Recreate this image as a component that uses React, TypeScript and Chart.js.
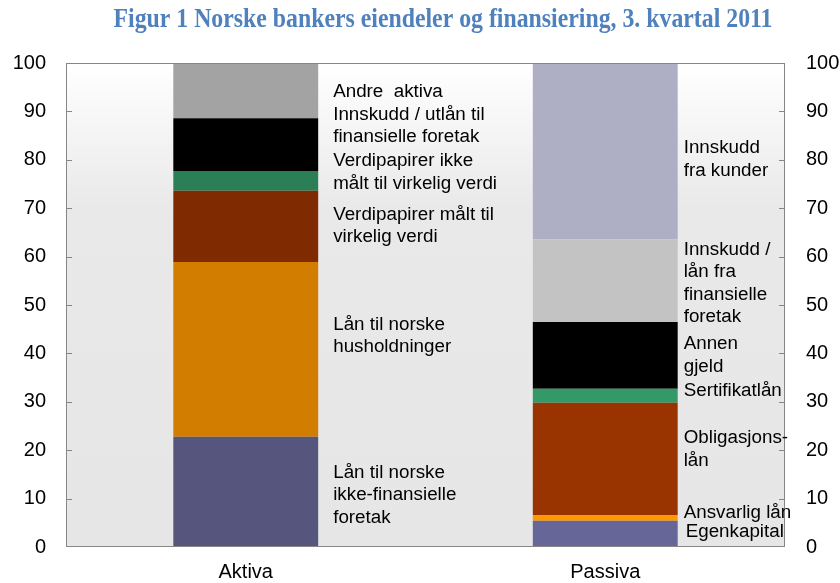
import React, { useEffect, useRef } from 'react';
import { Chart, registerables } from 'chart.js';

Chart.register(...registerables);

const categories = ['Aktiva', 'Passiva'];
const titleText = 'Figur 1 Norske bankers eiendeler og finansiering, 3. kvartal 2011';

// Aktiva segments, bottom to top
const aktivaNames = [
  'Lån til norske ikke-finansielle foretak',
  'Lån til norske husholdninger',
  'Verdipapirer målt til virkelig verdi',
  'Verdipapirer ikke målt til virkelig verdi',
  'Innskudd / utlån til finansielle foretak',
  'Andre aktiva',
];
const aktivaValues = [22.8, 36.1, 14.7, 4.1, 10.9, 11.4];
const aktivaColors = ['#55557d', '#d37d00', '#7f2a00', '#2b7f56', '#000000', '#a3a3a3'];
const aktivaLabelLines = [
  ['Lån til norske', 'ikke-finansielle', 'foretak'],
  ['Lån til norske', 'husholdninger'],
  ['Verdipapirer målt til', 'virkelig verdi'],
  ['Verdipapirer ikke', 'målt til virkelig verdi'],
  ['Innskudd / utlån til', 'finansielle foretak'],
  ['Andre  aktiva'],
];
const aktivaLabelAt = [10.7, 43.6, 66.4, 77.4, 87.0, 94.0];

// Passiva segments, bottom to top
const passivaNames = [
  'Egenkapital',
  'Ansvarlig lån',
  'Obligasjonslån',
  'Sertifikatlån',
  'Annen gjeld',
  'Innskudd / lån fra finansielle foretak',
  'Innskudd fra kunder',
];
const passivaValues = [5.4, 1.2, 23.2, 2.9, 13.8, 17.1, 36.4];
const passivaColors = ['#666699', '#ff9900', '#993300', '#339966', '#000000', '#c3c3c3', '#aeaec4'];
const passivaLabelLines = [
  ['Egenkapital'],
  ['Ansvarlig lån'],
  ['Obligasjons-', 'lån'],
  ['Sertifikatlån'],
  ['Annen', 'gjeld'],
  ['Innskudd /', 'lån fra', 'finansielle', 'foretak'],
  ['Innskudd', 'fra kunder'],
];
const passivaLabelAt = [3.1, 7.0, 20.2, 32.2, 39.6, 54.5, 80.1];

const yMin = 0;
const yMax = 100;
const yStep = 10;

const TICK_FONT = '"Liberation Sans", Arial, sans-serif';

export default function App() {
  const ref = useRef<HTMLCanvasElement | null>(null);

  useEffect(() => {
    document.body.style.margin = '0';
    const canvas = ref.current;
    if (!canvas) return;

    const datasets: any[] = [];
    aktivaValues.forEach((v, i) => {
      datasets.push({
        label: aktivaNames[i],
        data: [v, null],
        backgroundColor: aktivaColors[i],
        borderWidth: 0,
        stack: 's',
        side: 0,
        segIndex: i,
      });
    });
    passivaValues.forEach((v, i) => {
      datasets.push({
        label: passivaNames[i],
        data: [null, v],
        backgroundColor: passivaColors[i],
        borderWidth: 0,
        stack: 's',
        side: 1,
        segIndex: i,
      });
    });

    const decor = {
      id: 'decor',
      beforeDatasetsDraw(chart: any) {
        const { ctx, chartArea: a } = chart;
        ctx.save();
        const g = ctx.createLinearGradient(0, a.top, 0, a.bottom);
        g.addColorStop(0, '#ffffff');
        g.addColorStop(0.3, '#e9e9e9');
        g.addColorStop(1, '#e6e6e6');
        ctx.fillStyle = g;
        ctx.fillRect(a.left, a.top, a.right - a.left, a.bottom - a.top);
        ctx.restore();
      },
      afterDatasetsDraw(chart: any) {
        const { ctx, chartArea: a } = chart;
        const ys = chart.scales.y;
        ctx.save();
        // border
        ctx.strokeStyle = '#868686';
        ctx.lineWidth = 1;
        ctx.strokeRect(a.left + 0.5, a.top + 0.5, a.right - a.left - 1, a.bottom - a.top - 1);
        // inward ticks
        for (let v = yMin + yStep; v < yMax; v += yStep) {
          const py = Math.round(ys.getPixelForValue(v)) + 0.5;
          ctx.beginPath();
          ctx.moveTo(a.left, py);
          ctx.lineTo(a.left + 6, py);
          ctx.moveTo(a.right, py);
          ctx.lineTo(a.right - 6, py);
          ctx.stroke();
        }

        // segment labels
        ctx.fillStyle = '#000000';
        ctx.font = '18.8px "Liberation Sans", Arial, sans-serif';
        ctx.textAlign = 'left';
        ctx.textBaseline = 'middle';
        const lh = 22.5;
        const drawSide = (catIndex: number, lines: string[][], at: number[], gap: number) => {
          const dsIndex = datasets.findIndex((d) => d.side === catIndex);
          const bar = chart.getDatasetMeta(dsIndex).data[catIndex];
          const right = bar.x + bar.width / 2;
          lines.forEach((ls, i) => {
            const cy = ys.getPixelForValue(at[i]);
            const start = cy - ((ls.length - 1) * lh) / 2;
            const extra = catIndex === 1 && i === 0 ? 2 : 0;
            ls.forEach((t, j) => ctx.fillText(t, right + gap + extra, start + j * lh));
          });
        };
        drawSide(0, aktivaLabelLines, aktivaLabelAt, 15);
        drawSide(1, passivaLabelLines, passivaLabelAt, 6);

        // title (slightly stretched vertically, as in the reference)
        ctx.fillStyle = '#4f81bd';
        ctx.font = 'bold 23.8px "Liberation Serif", "Times New Roman", serif';
        ctx.textAlign = 'center';
        ctx.translate(443, 20);
        ctx.scale(1, 1.15);
        ctx.fillText(titleText, 0, 0);
        ctx.restore();
      },
    };

    const chart = new Chart(canvas, {
      type: 'bar',
      data: { labels: categories, datasets },
      options: {
        responsive: false,
        devicePixelRatio: 1,
        animation: false,
        layout: { padding: { top: 63, left: 0, right: 0, bottom: 0 } },
        datasets: { bar: { barPercentage: 0.403, categoryPercentage: 1 } },
        plugins: {
          legend: { display: false },
          tooltip: { enabled: false },
          title: { display: false },
        },
        scales: {
          x: {
            stacked: true,
            grid: { display: false },
            border: { display: false },
            ticks: { color: '#000', font: { family: TICK_FONT, size: 20 }, padding: 5 },
            afterFit: (s: any) => { s.height = 36; },
          },
          y: {
            stacked: true,
            position: 'left',
            min: yMin,
            max: yMax,
            grid: { display: false },
            border: { display: false },
            ticks: { stepSize: yStep, color: '#000', font: { family: TICK_FONT, size: 20 }, padding: 12 },
            afterFit: (s: any) => { s.width = 66; },
          },
          y2: {
            position: 'right',
            min: yMin,
            max: yMax,
            grid: { display: false },
            border: { display: false },
            ticks: { stepSize: yStep, color: '#000', font: { family: TICK_FONT, size: 20 }, padding: 13 },
            afterFit: (s: any) => { s.width = 55; },
          },
        },
      } as any,
      plugins: [decor],
    });

    return () => chart.destroy();
  }, []);

  return (
    <div style={{ position: 'absolute', left: 0, top: 0, width: 840, height: 583 }}>
      <canvas ref={ref} width={840} height={583} style={{ display: 'block', width: 840, height: 583 }} />
    </div>
  );
}
